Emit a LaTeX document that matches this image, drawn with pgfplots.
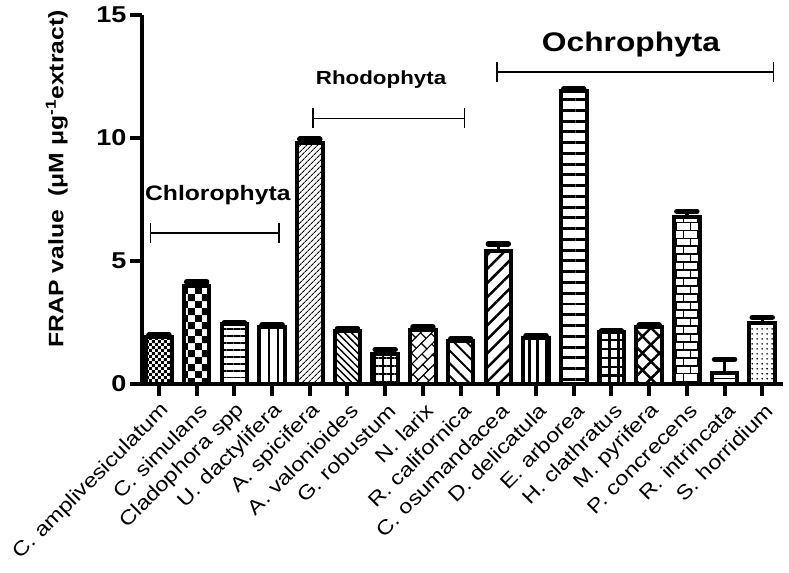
\documentclass[border=0pt]{standalone}
\usepackage{fontspec}
\setmainfont[FakeStretch=1.18]{Liberation Sans}
\usepackage{pgfplots}
\pgfplotsset{compat=1.18}
\usetikzlibrary{patterns,patterns.meta,arrows.meta}

\pgfdeclarepatternformonly{smallchecker}{\pgfpointorigin}{\pgfpoint{6pt}{6pt}}{\pgfpoint{6pt}{6pt}}{%
  \pgfpathrectangle{\pgfpointorigin}{\pgfpoint{3pt}{3pt}}%
  \pgfpathrectangle{\pgfpoint{3pt}{3pt}}{\pgfpoint{3pt}{3pt}}%
  \pgfusepath{fill}}
\pgfdeclarepatternformonly{bigchecker}{\pgfpointorigin}{\pgfpoint{14pt}{14pt}}{\pgfpoint{14pt}{14pt}}{%
  \pgfpathrectangle{\pgfpointorigin}{\pgfpoint{7pt}{7pt}}%
  \pgfpathrectangle{\pgfpoint{7pt}{7pt}}{\pgfpoint{7pt}{7pt}}%
  \pgfusepath{fill}}
\pgfdeclarepatternformonly{mybricks}{\pgfpoint{-1pt}{-1pt}}{\pgfpoint{15pt}{17pt}}{\pgfpoint{14pt}{16pt}}{%
  \pgfsetlinewidth{1.5pt}%
  \pgfpathmoveto{\pgfpoint{-1pt}{0pt}}\pgfpathlineto{\pgfpoint{15pt}{0pt}}%
  \pgfpathmoveto{\pgfpoint{-1pt}{8pt}}\pgfpathlineto{\pgfpoint{15pt}{8pt}}%
  \pgfpathmoveto{\pgfpoint{0pt}{0pt}}\pgfpathlineto{\pgfpoint{0pt}{8pt}}%
  \pgfpathmoveto{\pgfpoint{7pt}{8pt}}\pgfpathlineto{\pgfpoint{7pt}{16pt}}%
  \pgfusepath{stroke}}
\pgfdeclarepattern{
  name=dbricks,
  type=uncolored,
  bottom left={\pgfpoint{-1pt}{-1pt}},
  top right={\pgfpoint{15pt}{17pt}},
  tile size={\pgfpoint{14pt}{16pt}},
  tile transformation={\pgftransformrotate{45}},
  code={
    \pgfsetlinewidth{1.2pt}
    \pgfpathmoveto{\pgfpoint{-1pt}{0pt}}\pgfpathlineto{\pgfpoint{15pt}{0pt}}
    \pgfpathmoveto{\pgfpoint{-1pt}{8pt}}\pgfpathlineto{\pgfpoint{15pt}{8pt}}
    \pgfpathmoveto{\pgfpoint{0pt}{0pt}}\pgfpathlineto{\pgfpoint{0pt}{8pt}}
    \pgfpathmoveto{\pgfpoint{7pt}{8pt}}\pgfpathlineto{\pgfpoint{7pt}{16pt}}
    \pgfusepath{stroke}
  }
}

\pgfplotsset{
  mybar/.style={ybar, bar width=0.68, bar shift=0pt, draw=black, line width=4bp,
    /pgfplots/error bars/y dir=plus,
    /pgfplots/error bars/y explicit,
    /pgfplots/error bars/error mark=|,
    /pgfplots/error bars/error bar style={line width=3.5bp, black},
    /pgfplots/error bars/error mark options={line width=5.5bp, mark size=10bp, black, line cap=round}},
}

\begin{document}
\begin{tikzpicture}
\useasboundingbox (-142bp,-189bp) rectangle (647bp,384bp);
\begin{axis}[
  at={(0,0)}, anchor=south west,
  scale only axis, width=641bp, height=369bp,
  xmin=-0.45, xmax=16.55, ymin=0, ymax=15,
  axis lines=left,
  axis line style={-, line width=4bp, black},
  tick align=outside,
  major tick length=12bp,
  tick style={line width=4bp, black},
  ytick={0,5,10,15},
  xtick={0,...,16},
  xticklabels={C. amplivesiculatum, C. simulans, Cladophora spp, U. dactylifera, A. spicifera, A. valonioides, G. robustum, N. larix, R. californica, C. osumandacea, D. delicatula, E. arborea, H. clathratus, M. pyrifera, P. concrecens, R. intrincata, S. horridium},
  /pgf/number format/assume math mode=true,
  yticklabel style={font=\bfseries\fontsize{23}{23}\selectfont},
  xticklabel style={rotate=45, anchor=east, font=\fontsize{20}{20}\selectfont, inner sep=1bp, yshift=-13bp, xshift=-2bp},
  ylabel={FRAP value\ \ (μM μg\textsuperscript{-1}extract)},
  ylabel style={font=\bfseries\fontsize{21}{21}\selectfont, at={(axis description cs:-0.133,0.556)}, anchor=center},
  clip=false,
]
\addplot[mybar, pattern=smallchecker] coordinates {(0,1.9) +- (0,0.1)};
\addplot[mybar, pattern=bigchecker] coordinates {(1,4.0) +- (0,0.15)};
\addplot[mybar, pattern={Lines[angle=0,distance=7pt,line width=1.5pt]}] coordinates {(2,2.45) +- (0,0.05)};
\addplot[mybar, pattern={Lines[angle=90,distance=9pt,line width=1.5pt]}] coordinates {(3,2.3) +- (0,0.12)};
\addplot[mybar, pattern={Lines[angle=45,distance=4pt,line width=1pt]}] coordinates {(4,9.8) +- (0,0.15)};
\addplot[mybar, pattern={Lines[angle=-45,distance=5pt,line width=1.5pt]}] coordinates {(5,2.15) +- (0,0.1)};
\addplot[mybar, pattern={Hatch[angle=0,distance=8pt,line width=2pt]}] coordinates {(6,1.2) +- (0,0.2)};
\addplot[mybar, pattern=dbricks] coordinates {(7,2.2) +- (0,0.12)};
\addplot[mybar, pattern={Lines[angle=-45,distance=9pt,line width=2pt]}] coordinates {(8,1.75) +- (0,0.08)};
\addplot[mybar, pattern={Lines[angle=45,distance=10pt,line width=2.5pt]}] coordinates {(9,5.4) +- (0,0.3)};
\addplot[mybar, pattern={Lines[angle=90,distance=9pt,line width=3pt]}] coordinates {(10,1.85) +- (0,0.12)};
\addplot[mybar, pattern={Lines[angle=0,distance=10.8pt,line width=3pt]}] coordinates {(11,11.9) +- (0,0.1)};
\addplot[mybar, pattern={Hatch[angle=0,distance=9pt,line width=2.5pt]}] coordinates {(12,2.1) +- (0,0.06)};
\addplot[mybar, pattern={Hatch[angle=45,distance=12pt,line width=2.5pt]}] coordinates {(13,2.3) +- (0,0.1)};
\addplot[mybar, pattern=mybricks] coordinates {(14,6.8) +- (0,0.22)};
\addplot[mybar, pattern={Lines[angle=0,distance=5pt,line width=1.5pt]}] coordinates {(15,0.45) +- (0,0.55)};
\addplot[mybar, pattern={Dots[distance=5pt,radius=0.9pt]}] coordinates {(16,2.5) +- (0,0.2)};

\draw[line width=1.5bp, {Bar[width=20bp]}-{Bar[width=20bp]}] (axis cs:-0.24,6.14) -- (axis cs:3.2,6.14);
\node[font=\bfseries\fontsize{21}{21}\selectfont] at (axis cs:1.56,7.68) {Chlorophyta};
\draw[line width=1.5bp, {Bar[width=20bp]}-{Bar[width=20bp]}] (axis cs:4.07,10.8) -- (axis cs:8.12,10.8);
\node[font=\bfseries\fontsize{19}{19}\selectfont] at (axis cs:5.89,12.36) {Rhodophyta};
\draw[line width=1.5bp, {Bar[width=20bp]}-{Bar[width=20bp]}] (axis cs:8.94,12.68) -- (axis cs:16.32,12.68);
\node[font=\bfseries\fontsize{27}{27}\selectfont] at (axis cs:12.52,13.8) {Ochrophyta};
\end{axis}
\end{tikzpicture}
\end{document}
